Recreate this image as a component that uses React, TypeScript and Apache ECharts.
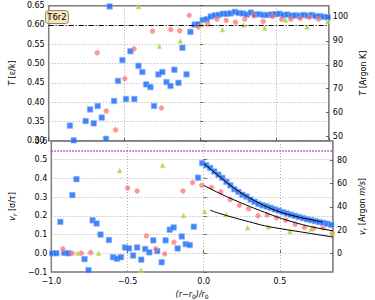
import React, { useEffect, useRef } from "react";
import * as echarts from "echarts";

// ---------- data ----------
const xTicksMin = -1.0;
const xMax = 0.848;
const argonScale = 161; // right-axis value per left-axis unit

const refT = 0.6; // dash-dot reference line (top)
const refV = 0.548; // dotted purple reference line (bottom)
const boxLabel = "T6r2";

// Top panel: temperature
const blueTopR = [-0.86, -0.835, -0.756, -0.727, -0.703, -0.677, -0.65, -0.622, -0.598, -0.569, -0.543, -0.514, -0.49, -0.461, -0.435, -0.408, -0.382, -0.357, -0.329, -0.305, -0.276, -0.25, -0.223, -0.197, -0.171, -0.144, -0.118, -0.091, -0.065, -0.037, -0.012, 0.016, 0.043, 0.069, 0.096, 0.122, 0.149, 0.175, 0.201, 0.228, 0.254, 0.281, 0.307, 0.334, 0.36, 0.388, 0.415, 0.441, 0.47, 0.496, 0.523, 0.549, 0.576, 0.602, 0.628, 0.657, 0.683, 0.71, 0.736, 0.762, 0.789, 0.815, 0.841];
const blueTopT = [0.339, 0.301, 0.351, 0.381, 0.345, 0.39, 0.36, 0.305, 0.648, 0.403, 0.455, 0.509, 0.408, 0.532, 0.408, 0.494, 0.478, 0.446, 0.439, 0.39, 0.472, 0.478, 0.452, 0.442, 0.484, 0.45, 0.541, 0.472, 0.582, 0.601, 0.602, 0.613, 0.615, 0.622, 0.625, 0.626, 0.629, 0.629, 0.63, 0.634, 0.631, 0.63, 0.627, 0.632, 0.627, 0.628, 0.626, 0.626, 0.627, 0.628, 0.629, 0.626, 0.627, 0.624, 0.625, 0.624, 0.626, 0.624, 0.626, 0.623, 0.623, 0.621, 0.62];

const redTopR = [-0.68, -0.62, -0.559, -0.498, -0.437, -0.315, -0.256, -0.195, -0.136, -0.073, -0.012, 0.049, 0.11, 0.171, 0.232, 0.293, 0.354, 0.415, 0.476, 0.537, 0.598, 0.659, 0.72, 0.78];
const redTopT = [0.528, 0.377, 0.328, 0.461, 0.538, 0.584, 0.385, 0.588, 0.585, 0.625, 0.595, 0.602, 0.615, 0.612, 0.607, 0.615, 0.624, 0.609, 0.622, 0.615, 0.615, 0.617, 0.62, 0.615];

const greenTopR = [-0.408, -0.27, -0.132, 0.008, 0.146, 0.287, 0.425, 0.563, 0.704, 0.841];
const greenTopT = [0.648, 0.545, 0.559, 0.601, 0.588, 0.6, 0.592, 0.613, 0.595, 0.609];

// Bottom panel: radial velocity
const blueBotR = [-0.994, -0.967, -0.941, -0.915, -0.888, -0.862, -0.835, -0.782, -0.756, -0.729, -0.703, -0.677, -0.622, -0.595, -0.569, -0.543, -0.516, -0.49, -0.463, -0.437, -0.41, -0.384, -0.357, -0.331, -0.305, -0.276, -0.25, -0.223, -0.197, -0.171, -0.144, -0.118, -0.091, -0.065, -0.037, -0.01, 0.016, 0.042, 0.069, 0.096, 0.122, 0.149, 0.175, 0.201, 0.228, 0.254, 0.281, 0.308, 0.334, 0.36, 0.387, 0.413, 0.44, 0.466, 0.493, 0.519, 0.546, 0.572, 0.599, 0.625, 0.652, 0.678, 0.705, 0.731, 0.758, 0.784, 0.811, 0.837];
const blueBotV = [0.0, 0.0, 0.168, 0.002, 0.0, 0.311, 0.396, -0.031, -0.09, 0.176, 0.159, 0.1, 0.071, -0.021, -0.029, -0.021, 0.031, 0.026, -0.012, 0.031, -0.034, 0.023, 0.005, 0.069, 0.012, -0.048, 0.069, 0.126, 0.138, 0.026, 0.09, 0.049, 0.044, 0.142, 0.404, 0.482, 0.47, 0.456, 0.437, 0.42, 0.403, 0.382, 0.363, 0.342, 0.328, 0.313, 0.303, 0.287, 0.275, 0.264, 0.256, 0.25, 0.243, 0.235, 0.228, 0.22, 0.213, 0.206, 0.2, 0.194, 0.188, 0.182, 0.177, 0.172, 0.167, 0.163, 0.158, 0.152];

const redBotR = [-0.925, -0.863, -0.803, -0.742, -0.5, -0.437, -0.376, -0.315, -0.256, -0.195, -0.136, -0.073, -0.012, 0.051, 0.112, 0.173, 0.234, 0.295, 0.356, 0.417, 0.478, 0.539, 0.6, 0.661, 0.722, 0.783, 0.844];
const redBotV = [0.024, 0.0, 0.0, 0.004, 0.349, 0.333, 0.093, 0.024, -0.003, 0.059, 0.333, 0.378, 0.363, 0.352, 0.328, 0.287, 0.256, 0.238, 0.2, 0.205, 0.19, 0.177, 0.155, 0.138, 0.133, 0.136, 0.107];

const greenBotR = [-0.827, -0.689, -0.551, -0.412, -0.27, -0.132, 0.006, 0.147, 0.288, 0.425, 0.566, 0.704, 0.845];
const greenBotV = [0.0, 0.0, 0.442, -0.091, 0.471, 0.202, 0.223, 0.207, 0.137, 0.142, 0.117, 0.13, 0.104];

// Fitted curves (black lines)
const fitBlueR = [0.0, 0.1, 0.2, 0.3, 0.4, 0.5, 0.6, 0.7, 0.78];
const fitBlueV = [0.48, 0.412, 0.348, 0.296, 0.254, 0.221, 0.198, 0.18, 0.167];
const fitRedR = [0.0, 0.1, 0.2, 0.3, 0.4, 0.5, 0.6, 0.7, 0.848];
const fitRedV = [0.363, 0.322, 0.285, 0.251, 0.219, 0.189, 0.164, 0.143, 0.12];
const fitGreenR = [0.043, 0.1, 0.2, 0.3, 0.4, 0.5, 0.6, 0.7, 0.848];
const fitGreenV = [0.23, 0.214, 0.19, 0.168, 0.147, 0.132, 0.119, 0.106, 0.087];

const rightTTicks = [50, 60, 70, 80, 90, 100];
const rightVTicks = [0, 20, 40, 60, 80];

const zip = (a: number[], b: number[]) => a.map((x, i) => [x, b[i]]);
const fmt = (v: number, d: number) => (v < -1e-9 ? "\u2212" : "") + Math.abs(v).toFixed(d);

const FONT = "DejaVu Sans";
const GRID_COLOR = "#999";
const FRAME = "#777";

export default function App() {
  const ref = useRef<HTMLDivElement>(null);
  useEffect(() => {
    if (!ref.current) return;
    const chart = echarts.init(ref.current, undefined, { renderer: "svg" });

    const splitLine = { show: true, lineStyle: { color: GRID_COLOR, type: [1, 2], width: 0.8 } };
    const tick = { show: true, inside: true, length: 3, lineStyle: { color: "#444", width: 0.8 } };
    const label = { color: "#000", fontSize: 8, fontFamily: FONT };

    const blueStyle = { color: "#1765f4", borderColor: "#86b4ff", borderWidth: 0.8 };
    const redStyle = { color: "rgba(255,90,90,0.8)", borderColor: "rgba(255,165,165,0.8)", borderWidth: 0.8 };
    const greenStyle = { color: "#a6cf2c", borderColor: "#cfe88a", borderWidth: 0.6 };

    const sc = (name: string, xi: number, yi: number, data: number[][], symbol: string, size: number, style: any) => ({
      name, type: "scatter", xAxisIndex: xi, yAxisIndex: yi, data, symbol, symbolSize: size, itemStyle: style, clip: true, z: 3,
    });
    const fit = (data: number[][]) => ({
      type: "line", xAxisIndex: 1, yAxisIndex: 2, data, smooth: 0.4, symbol: "none",
      lineStyle: { color: "#000", width: 1 }, z: 4,
    });
    const italic = { fontSize: 8, fontStyle: "italic", fontFamily: FONT };
    const sub = { fontSize: 6, fontStyle: "italic", verticalAlign: "bottom", padding: [4, 0, 0, 0], fontFamily: FONT };

    const option: any = {
      animation: false,
      textStyle: { fontFamily: FONT },
      graphic: [
        {
          type: "group", left: 45, top: 10, z: 10,
          children: [
            { type: "rect", shape: { x: 0, y: 0, width: 23, height: 13, r: 3 }, style: { fill: "rgba(245,222,179,0.8)", stroke: "#9c8460", lineWidth: 1 } },
            { type: "text", x: 11.5, y: 6.8, style: { text: boxLabel, fontSize: 8.5, fontFamily: FONT, fill: "#000", align: "center", verticalAlign: "middle" } },
          ],
        },
      ],
      grid: [
        { left: 41.5, top: 5.7, width: 303, height: 135, show: true, borderColor: FRAME, borderWidth: 1.5, backgroundColor: "transparent", containLabel: false },
        { left: 41.5, top: 141, width: 303, height: 135, show: true, borderColor: FRAME, borderWidth: 1.5, backgroundColor: "transparent", containLabel: false },
      ],
      xAxis: [
        { type: "value", gridIndex: 0, min: xTicksMin, max: xMax, interval: 0.5, axisLine: { show: false }, axisTick: tick, axisLabel: { show: false }, splitLine },
        {
          type: "value", gridIndex: 1, min: xTicksMin, max: xMax, interval: 0.5, axisLine: { show: false }, axisTick: tick,
          axisLabel: { ...label, showMaxLabel: false, margin: 5, formatter: (v: number) => fmt(v, 1) }, splitLine,
          name: "{i|(r\u2212r}{s|0}{i|)/r}{s|0}", nameLocation: "middle", nameGap: 17,
          nameTextStyle: { fontSize: 8, color: "#000", rich: { i: italic, s: { ...sub, fontStyle: "normal" } } },
        },
      ],
      yAxis: [
        {
          type: "value", gridIndex: 0, min: 0.3, max: 0.65, interval: 0.05, axisLine: { show: false }, axisTick: tick,
          axisLabel: { ...label, margin: 4, formatter: (v: number) => fmt(v, 2) }, splitLine,
          name: "{i|T} [\u03b5/k]", nameLocation: "middle", nameGap: 27, nameRotate: 90,
          nameTextStyle: { fontSize: 8, color: "#000", rich: { i: italic } },
        },
        {
          type: "value", gridIndex: 0, position: "right", min: 0.3 * argonScale, max: 0.65 * argonScale,
          axisLine: { show: false }, axisTick: { ...tick, customValues: rightTTicks },
          axisLabel: { ...label, margin: 4, customValues: rightTTicks }, splitLine: { show: false },
          name: "{i|T} [Argon K]", nameLocation: "middle", nameGap: 21, nameRotate: 90,
          nameTextStyle: { fontSize: 8, color: "#000", rich: { i: italic } },
        },
        {
          type: "value", gridIndex: 1, min: -0.1, max: 0.6, interval: 0.1, axisLine: { show: false }, axisTick: tick,
          axisLabel: { ...label, margin: 4, formatter: (v: number) => fmt(v, 1) }, splitLine,
          name: "{i|v}{s|r} [\u03c3/\u03c4]", nameLocation: "middle", nameGap: 27, nameRotate: 90,
          nameTextStyle: { fontSize: 8, color: "#000", rich: { i: italic, s: sub } },
        },
        {
          type: "value", gridIndex: 1, position: "right", min: -0.1 * argonScale, max: 0.6 * argonScale,
          axisLine: { show: false }, axisTick: { ...tick, customValues: rightVTicks },
          axisLabel: { ...label, margin: 4, customValues: rightVTicks }, splitLine: { show: false },
          name: "{i|v}{s|r} [Argon {i|m/s}]", nameLocation: "middle", nameGap: 21, nameRotate: 90,
          nameTextStyle: { fontSize: 8, color: "#000", rich: { i: italic, s: sub } },
        },
      ],
      series: [
        {
          type: "line", xAxisIndex: 0, yAxisIndex: 0, data: [], silent: true,
          markLine: { silent: true, symbol: "none", label: { show: false }, lineStyle: { color: "#000", width: 1, type: [5, 2, 1, 2] }, data: [{ yAxis: refT }] },
        },
        {
          type: "line", xAxisIndex: 1, yAxisIndex: 2, data: [], silent: true,
          markLine: { silent: true, symbol: "none", label: { show: false }, lineStyle: { color: "#a040a8", width: 1.5, type: [1.5, 1.5] }, data: [{ yAxis: refV }] },
        },
        sc("blueT", 0, 0, zip(blueTopR, blueTopT), "rect", 5.5, blueStyle),
        sc("redT", 0, 0, zip(redTopR, redTopT), "circle", 5, redStyle),
        sc("greenT", 0, 0, zip(greenTopR, greenTopT), "triangle", 5, greenStyle),
        sc("blueV", 1, 2, zip(blueBotR, blueBotV), "rect", 5.5, blueStyle),
        sc("redV", 1, 2, zip(redBotR, redBotV), "circle", 5, redStyle),
        sc("greenV", 1, 2, zip(greenBotR, greenBotV), "triangle", 5, greenStyle),
        fit(zip(fitBlueR, fitBlueV)),
        fit(zip(fitRedR, fitRedV)),
        fit(zip(fitGreenR, fitGreenV)),
      ],
    };
    chart.setOption(option);
    return () => chart.dispose();
  }, []);
  return <div ref={ref} style={{ position: "fixed", left: 0, top: 0, width: 375, height: 300, background: "#fff" }} />;
}
